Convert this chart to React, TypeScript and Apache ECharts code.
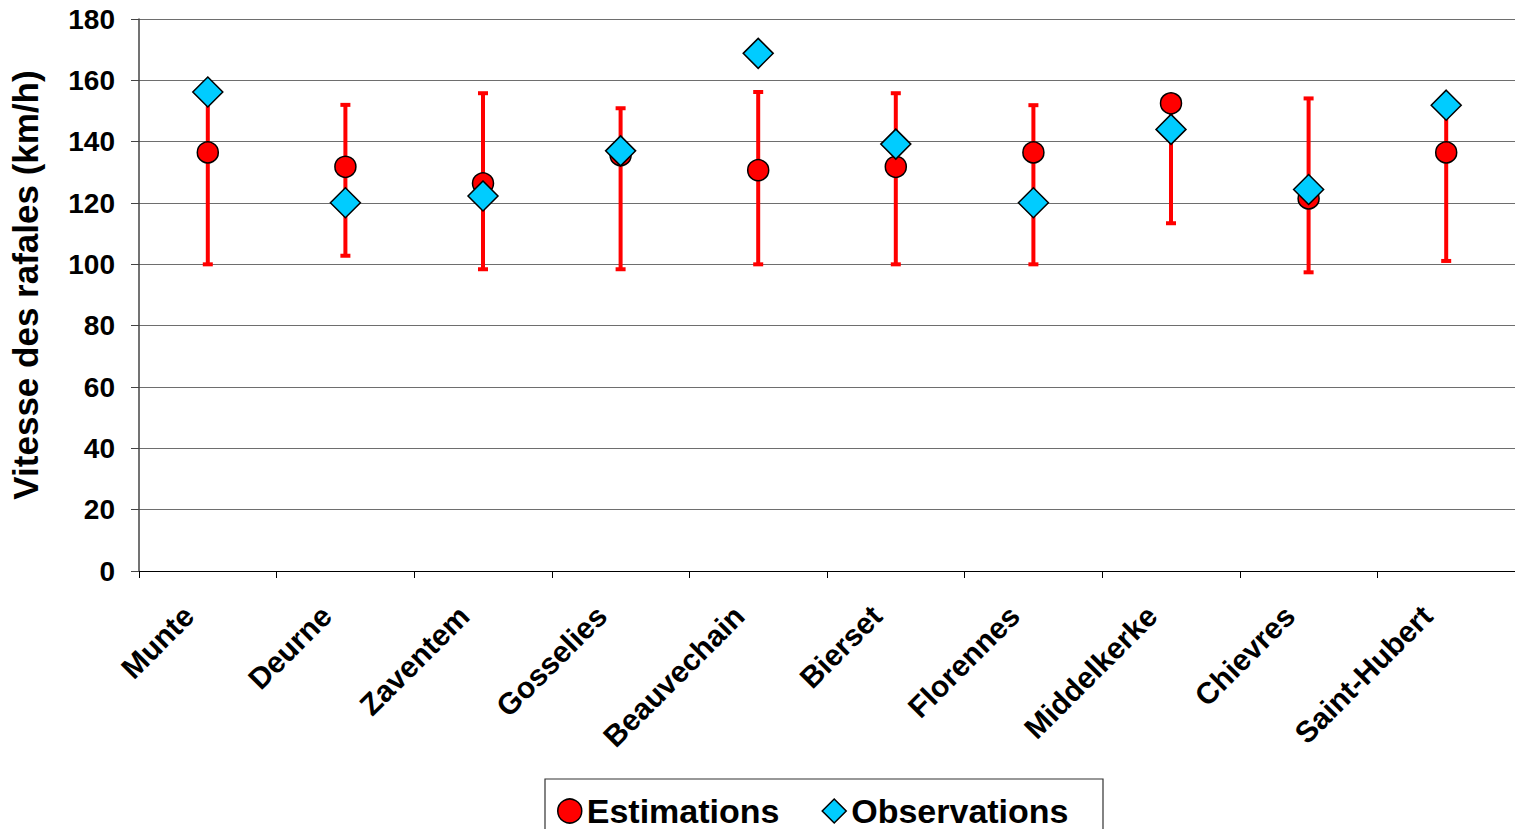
import React, { useEffect, useRef } from "react";
import * as echarts from "echarts";

const categories = ["Munte", "Deurne", "Zaventem", "Gosselies", "Beauvechain", "Bierset", "Florennes", "Middelkerke", "Chievres", "Saint-Hubert"];
const estimations = [136.5, 131.8, 126.4, 135.6, 130.7, 131.8, 136.5, 152.5, 121.5, 136.5];
const observations = [156.2, 120.1, 122.3, 137.0, 168.8, 139.2, 120.1, 144.0, 124.4, 151.9];
const errLow = [100, 102.8, 98.4, 98.4, 100, 100, 100, 113.4, 97.4, 101.1];
const errHigh = [154, 152, 155.8, 150.9, 156.2, 155.8, 151.9, 152, 154.1, 150];
const yTicks = { min: 0, max: 180, interval: 20 };

const FONT = "'Liberation Sans', Arial, sans-serif";

export default function App() {
  const ref = useRef<HTMLDivElement>(null);
  useEffect(() => {
    if (!ref.current) return;
    const chart = echarts.init(ref.current, null, { renderer: "svg" });
    const errData = categories.map((_, i) => [i, errLow[i], errHigh[i]]);
    chart.setOption({
      animation: false,
      backgroundColor: "#ffffff",
      textStyle: { fontFamily: FONT },
      grid: { left: 139, top: 19, width: 1376, height: 552, containLabel: false },
      xAxis: {
        type: "category",
        data: categories,
        boundaryGap: true,
        axisLine: { show: true, lineStyle: { color: "#000", width: 1 } },
        axisTick: { show: true, alignWithLabel: false, length: 7, lineStyle: { color: "#000" } },
        axisLabel: {
          rotate: 45,
          fontSize: 30,
          fontWeight: "bold",
          color: "#000",
          fontFamily: FONT,
          margin: 42,
          verticalAlign: "bottom",
          align: "right",
          padding: [0, 12, 0, 0],
          interval: 0,
        },
        splitLine: { show: false },
      },
      yAxis: {
        type: "value",
        min: yTicks.min,
        max: yTicks.max,
        interval: yTicks.interval,
        name: "Vitesse des rafales (km/h)",
        nameLocation: "middle",
        nameGap: 96,
        nameTextStyle: { fontSize: 35, fontWeight: "bold", color: "#000", fontFamily: FONT, padding: [0, 0, 0, 20] },
        axisLine: { show: true, lineStyle: { color: "#444", width: 1.5 } },
        axisTick: { show: true, inside: false, length: 8, lineStyle: { color: "#444" } },
        axisLabel: { fontSize: 28, fontWeight: "bold", color: "#000", fontFamily: FONT, margin: 24 },
        splitLine: { show: true, lineStyle: { color: "#6e6e6e", width: 1.2 } },
      },
      legend: {
        left: 552,
        top: 789,
        itemWidth: 24,
        itemHeight: 24,
        itemGap: 42,
        textStyle: { fontSize: 34, fontWeight: "bold", color: "#000", fontFamily: FONT },
        data: [
          { name: "Estimations", icon: "circle", itemStyle: { color: "#ff0000", borderColor: "#000", borderWidth: 1.5 } },
          { name: "Observations", icon: "diamond", itemStyle: { color: "#00ccff", borderColor: "#000", borderWidth: 1.5 } },
        ],
      },
      graphic: [
        {
          type: "rect",
          shape: { x: 545, y: 779, width: 558, height: 70 },
          style: { fill: "none", stroke: "#333", lineWidth: 1.2 },
          z: 100,
        },
      ],
      series: [
        {
          name: "err",
          type: "custom",
          data: errData,
          z: 1,
          renderItem: (params: any, api: any) => {
            const x = api.value(0);
            const lo = api.coord([x, api.value(1)]);
            const hi = api.coord([x, api.value(2)]);
            const cx = lo[0];
            const hw = 5;
            const style = { stroke: "#ff0000", lineWidth: 4 };
            return {
              type: "group",
              children: [
                { type: "line", shape: { x1: cx, y1: lo[1], x2: cx, y2: hi[1] }, style },
                { type: "line", shape: { x1: cx - hw, y1: lo[1], x2: cx + hw, y2: lo[1] }, style },
                { type: "line", shape: { x1: cx - hw, y1: hi[1], x2: cx + hw, y2: hi[1] }, style },
              ],
            };
          },
        },
        {
          name: "Estimations",
          type: "scatter",
          data: estimations,
          symbol: "circle",
          symbolSize: 21,
          z: 2,
          itemStyle: { color: "#ff0000", borderColor: "#000", borderWidth: 1.5, opacity: 1 },
        },
        {
          name: "Observations",
          type: "scatter",
          data: observations,
          symbol: "diamond",
          symbolSize: 30,
          z: 3,
          itemStyle: { color: "#00ccff", borderColor: "#000", borderWidth: 1.5, opacity: 1 },
        },
      ],
    });
    return () => chart.dispose();
  }, []);
  return (
    <div
      ref={ref}
      style={{ position: "absolute", left: 0, top: 0, width: 1515, height: 829, background: "#fff" }}
    />
  );
}
